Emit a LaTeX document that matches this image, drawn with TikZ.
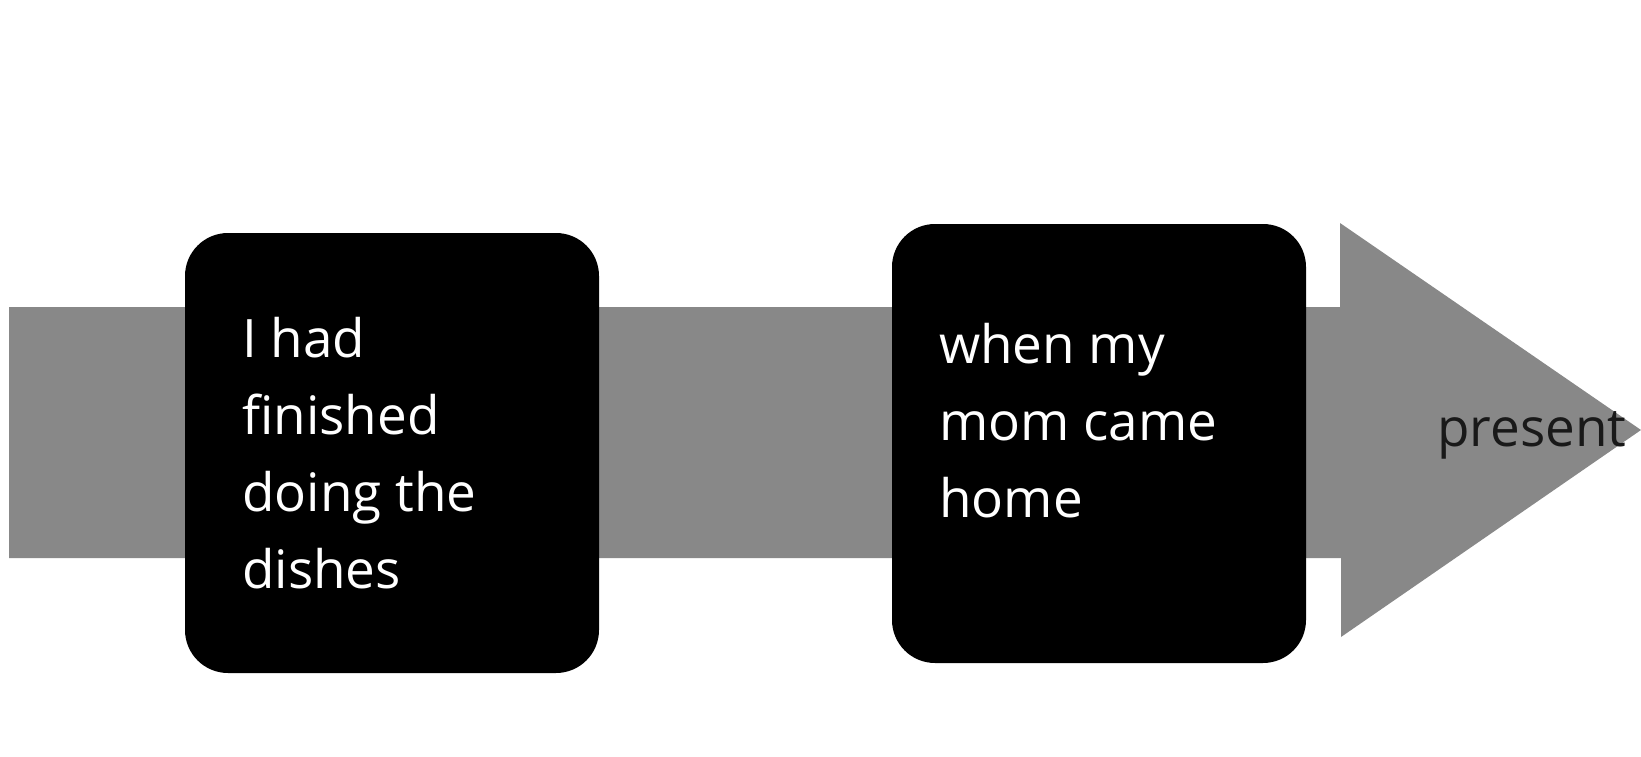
\documentclass[tikz,border=0pt]{standalone}
\usepackage{fontspec}
\setmainfont{Open Sans}
\definecolor{bargray}{RGB}{136,136,136}
\tikzset{
  evbox/.style={fill=black, rounded corners=43pt, draw=none},
  evtext/.style={text=white, font=\fontsize{53}{77}\selectfont, align=left, anchor=base west, inner sep=0pt},
  lbltext/.style={text=black!90, font=\fontsize{53}{77}\selectfont, anchor=base west, inner sep=0pt}
}
\begin{document}
\begin{tikzpicture}[x=1pt,y=-1pt]
\useasboundingbox (0,0) rectangle (1641,757);
% arrow (bar + head)
\fill[bargray] (9,307) -- (1340,307) -- (1340,223) -- (1641,430) -- (1341,637) -- (1341,558) -- (9,558) -- cycle;
% boxes
\path[evbox] (185,233) rectangle (599,673);
\path[evbox] (892,224) rectangle (1306,663);
% texts (base anchor = baseline of the last line)
\node[evtext] (t1) at (242,588) {I had\\finished\\doing the\\dishes};
\node[evtext] (t2) at (939,517) {when my\\mom came\\home};
\node[lbltext] (p) at (1437,446) {present};
\end{tikzpicture}
\end{document}
